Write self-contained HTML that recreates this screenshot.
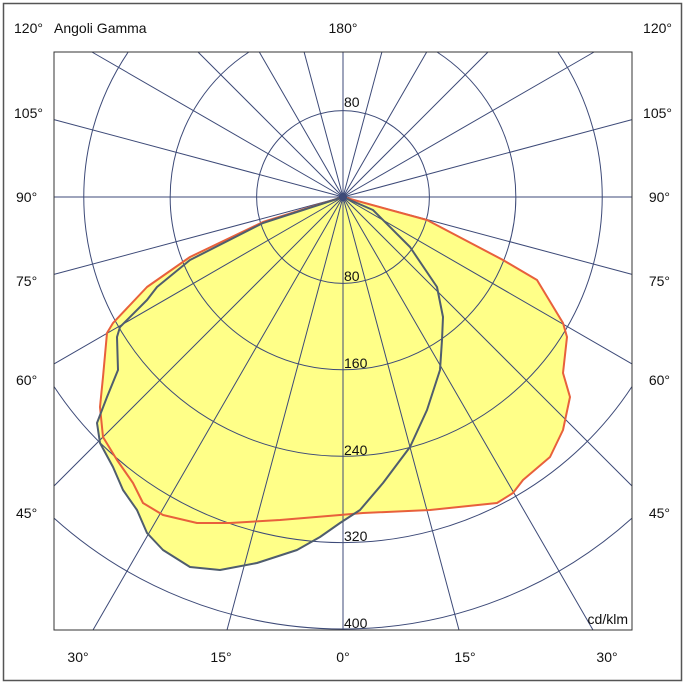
<!DOCTYPE html>
<html><head><style>
html,body{margin:0;padding:0;background:#fff;width:685px;height:685px;overflow:hidden;}
svg{display:block;font-family:"Liberation Sans",Arial,sans-serif;}
</style></head><body>
<svg width="685" height="685" viewBox="0 0 685 685" xmlns="http://www.w3.org/2000/svg">
<rect x="3.5" y="3.5" width="678" height="677" fill="#fff" stroke="#555" stroke-width="1.5"/>
<polygon fill="#ffff88" stroke="none" points="343,197 263,222 190,257 147,287 113,323 107,333 103,377 100,407 103,437 117,460 133,483 143,503 163,515 197,523 230,523 280,520 340,515 363,513 430,510 497,503 513,493 523,480 550,457 563,430 570,397 563,373 567,337 563,323 537,280 503,260 427,220"/>
<polygon fill="#ffff88" stroke="none" points="343,197 263,223 190,260 157,287 147,300 120,327 117,337 118,370 107,397 97,423 100,443 113,467 123,490 137,510 147,533 163,550 190,567 220,570 257,563 297,550 320,537 340,523 360,510 383,483 410,447 427,410 440,370 442,340 443,317 437,287 410,247 373,210"/>
<g stroke="#3d4a78" stroke-width="1" fill="none">
<circle cx="343" cy="197" r="86.4"/>
<path d="M249,52 A172.8,172.8 0 1 0 437,52"/>
<path d="M128.2,52 A259.2,259.2 0 1 0 557.8,52"/>
<path d="M54,386.5 A345.6,345.6 0 0 0 632,386.5"/>
<path d="M54,518.1 A432,432 0 0 0 632,518.1"/>
<path d="M343,197L343,630 M343,197L459,630 M343,197L593,630 M343,197L632,486 M343,197L632,363.9 M343,197L632,274.4 M343,197L632,197 M343,197L632,119.6 M343,197L594.1,52 M343,197L488,52 M343,197L426.7,52 M343,197L381.9,52 M343,197L343,52 M343,197L227,630 M343,197L93,630 M343,197L54,486 M343,197L54,363.9 M343,197L54,274.4 M343,197L54,197 M343,197L54,119.6 M343,197L91.9,52 M343,197L198,52 M343,197L259.3,52 M343,197L304.1,52"/>
</g>
<polygon fill="none" stroke="#e8603c" stroke-width="2" stroke-linejoin="round" points="343,197 263,222 190,257 147,287 113,323 107,333 103,377 100,407 103,437 117,460 133,483 143,503 163,515 197,523 230,523 280,520 340,515 363,513 430,510 497,503 513,493 523,480 550,457 563,430 570,397 563,373 567,337 563,323 537,280 503,260 427,220"/>
<polygon fill="none" stroke="#4f5d6e" stroke-width="2" stroke-linejoin="round" points="343,197 263,223 190,260 157,287 147,300 120,327 117,337 118,370 107,397 97,423 100,443 113,467 123,490 137,510 147,533 163,550 190,567 220,570 257,563 297,550 320,537 340,523 360,510 383,483 410,447 427,410 440,370 442,340 443,317 437,287 410,247 373,210"/>
<circle cx="343" cy="197" r="4" fill="#3d4a78"/>
<rect x="54" y="52" width="578" height="578" fill="none" stroke="#333" stroke-width="1"/>
<g font-size="14" fill="#111">
<text x="344" y="107">80</text>
<text x="344" y="281">80</text>
<text x="344" y="368">160</text>
<text x="344" y="455">240</text>
<text x="344" y="541">320</text>
<text x="344" y="628">400</text>
<text x="628" y="624" text-anchor="end">cd/klm</text>
<text x="14" y="33">120°</text>
<text x="54" y="33">Angoli Gamma</text>
<text x="343" y="33" text-anchor="middle">180°</text>
<text x="672" y="33" text-anchor="end">120°</text>
<text x="14" y="118">105°</text><text x="672" y="118" text-anchor="end">105°</text>
<text x="16" y="202">90°</text><text x="670" y="202" text-anchor="end">90°</text>
<text x="16" y="286">75°</text><text x="670" y="286" text-anchor="end">75°</text>
<text x="16" y="385">60°</text><text x="670" y="385" text-anchor="end">60°</text>
<text x="16" y="518">45°</text><text x="670" y="518" text-anchor="end">45°</text>
<text x="78" y="662" text-anchor="middle">30°</text>
<text x="221" y="662" text-anchor="middle">15°</text>
<text x="343" y="662" text-anchor="middle">0°</text>
<text x="465" y="662" text-anchor="middle">15°</text>
<text x="607" y="662" text-anchor="middle">30°</text>
</g>
</svg>
</body></html>
